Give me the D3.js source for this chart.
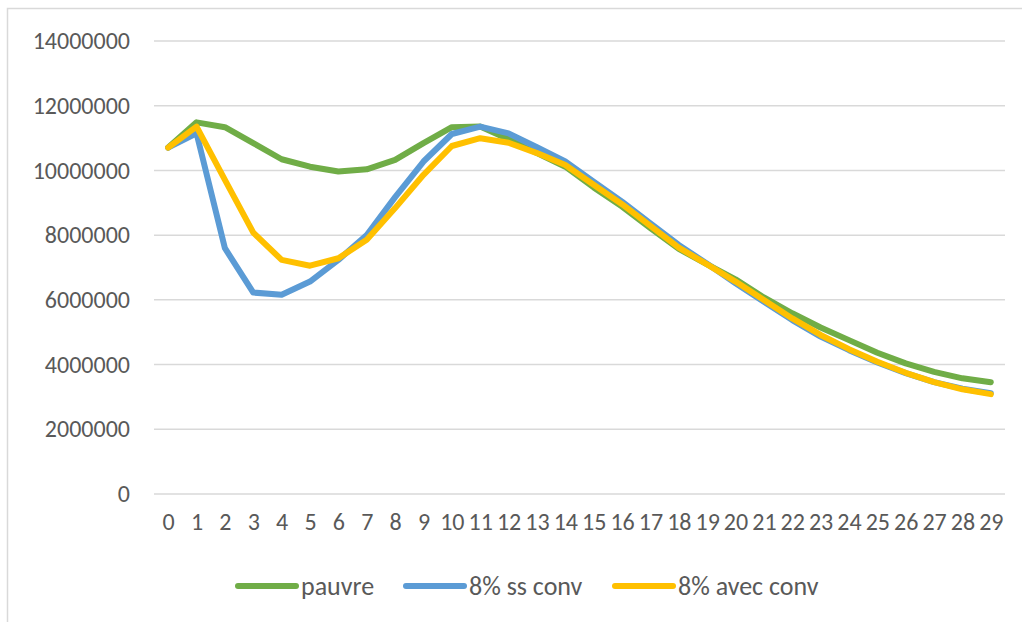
<!DOCTYPE html>
<html>
<head>
<meta charset="utf-8">
<script src="https://cdn.jsdelivr.net/npm/d3@7"></script>
<style>
  html, body { margin: 0; padding: 0; background: #fff; }
  svg { display: block; }
  text { font-family: Carlito, Calibri, Lato, "Open Sans", sans-serif; fill: #595959; }
</style>
</head>
<body>
<svg id="chart" width="1022" height="622"></svg>
<script>
const categories = d3.range(0, 30).map(String);

const yTicks = [0, 2000000, 4000000, 6000000, 8000000, 10000000, 12000000, 14000000];

const seriesNames = ["pauvre", "8% ss conv", "8% avec conv"];
const seriesColors = ["#70AD47", "#5B9BD5", "#FFC000"];

const pauvre = [10690000, 11470000, 11320000, 10830000, 10330000, 10100000, 9950000, 10020000, 10310000, 10830000,
                11320000, 11340000, 10950000, 10520000, 10100000, 9460000, 8870000, 8200000, 7560000, 7080000,
                6620000, 6060000, 5570000, 5130000, 4740000, 4350000, 4020000, 3760000, 3560000, 3440000];
const ssConv = [10690000, 11130000, 7580000, 6210000, 6140000, 6550000, 7220000, 7990000, 9160000, 10260000,
                11110000, 11340000, 11130000, 10700000, 10260000, 9640000, 9020000, 8350000, 7680000, 7100000,
                6500000, 5930000, 5360000, 4850000, 4430000, 4050000, 3720000, 3440000, 3240000, 3100000];
const avecConv = [10690000, 11340000, 9690000, 8060000, 7220000, 7040000, 7270000, 7840000, 8820000, 9850000,
                  10740000, 10980000, 10840000, 10520000, 10150000, 9540000, 8940000, 8270000, 7600000, 7080000,
                  6550000, 5980000, 5410000, 4900000, 4460000, 4070000, 3730000, 3440000, 3220000, 3070000];

const seriesValues = [pauvre, ssConv, avecConv];

const svg = d3.select("#chart");

// outer chart border
svg.append("rect")
  .attr("x", 7.5).attr("y", 8.5)
  .attr("width", 1040).attr("height", 640)
  .attr("fill", "none").attr("stroke", "#d9d9d9").attr("stroke-width", 1.5);

const plotLeft = 154, plotRight = 1005, plotTop = 40.5, plotBottom = 493.5;

const x = d3.scalePoint().domain(categories).range([plotLeft, plotRight]).padding(0.5);
const y = d3.scaleLinear().domain([0, 14000000]).range([plotBottom, plotTop]);

// gridlines + y labels
const yAxis = d3.axisLeft(y).tickValues(yTicks).tickSize(-(plotRight - plotLeft)).tickPadding(24)
  .tickFormat(d3.format("d"));
const gy = svg.append("g").attr("transform", `translate(${plotLeft},0)`).call(yAxis);
gy.select(".domain").remove();
gy.selectAll(".tick line").attr("stroke", "#d9d9d9").attr("stroke-width", 1.5);
gy.selectAll(".tick text").attr("font-size", 24).attr("fill", "#595959").attr("dy", "0.34em")
  .style("font-family", null);

// x axis labels
const xAxis = d3.axisBottom(x).tickSize(0).tickPadding(0);
const gx = svg.append("g").attr("transform", `translate(0,${plotBottom})`).call(xAxis);
gx.select(".domain").remove();
gx.selectAll(".tick text").attr("font-size", 24).attr("fill", "#595959").attr("y", 36).attr("dy", 0);

// lines
const line = d3.line().x((d, i) => x(categories[i])).y(d => y(d));
seriesValues.forEach((vals, k) => {
  svg.append("path")
    .datum(vals)
    .attr("d", line)
    .attr("fill", "none")
    .attr("stroke", seriesColors[k])
    .attr("stroke-width", 6)
    .attr("stroke-linejoin", "round")
    .attr("stroke-linecap", "round");
});

// legend
const legendX = [238, 406, 615];
const legend = svg.append("g");
seriesNames.forEach((name, k) => {
  legend.append("line")
    .attr("x1", legendX[k]).attr("x2", legendX[k] + 58)
    .attr("y1", 586).attr("y2", 586)
    .attr("stroke", seriesColors[k]).attr("stroke-width", 6).attr("stroke-linecap", "round");
  legend.append("text")
    .attr("x", legendX[k] + 63).attr("y", 595)
    .attr("font-size", 26)
    .text(name);
});
</script>
</body>
</html>
